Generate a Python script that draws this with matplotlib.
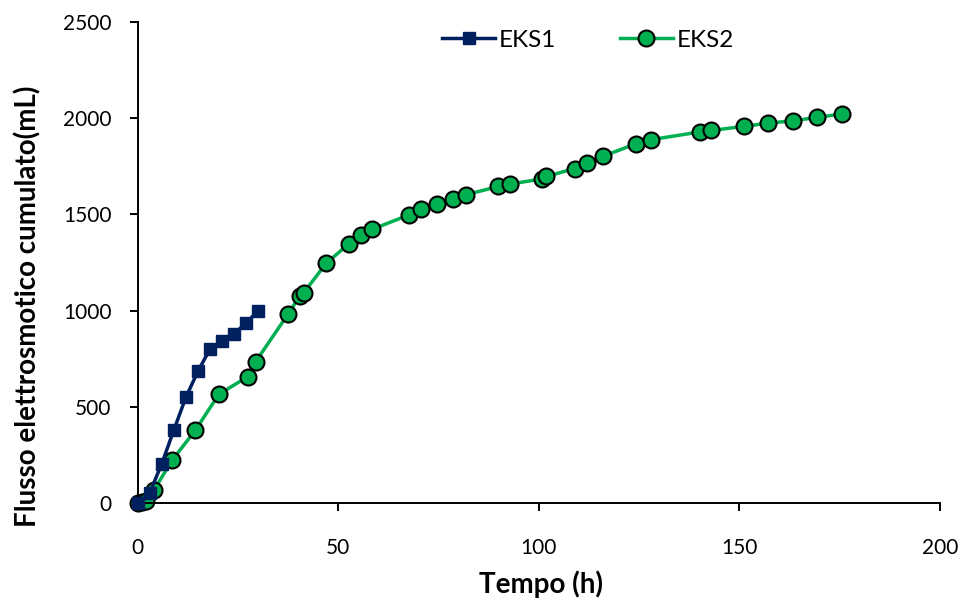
import matplotlib.pyplot as plt

plt.rcParams['font.family'] = ['Lato', 'DejaVu Sans']

# EKS1
t1 = [0, 3, 6, 9, 12, 15, 18, 21, 24, 27, 30]
q1 = [0, 55, 205, 380, 550, 685, 800, 840, 880, 935, 1000]

# EKS2
t2 = [0, 1, 2, 4, 8.6, 14.4, 20.2, 27.4, 29.4, 37.5, 40.4, 41.4, 47, 52.6, 55.6,
      58.5, 67.7, 70.7, 74.7, 78.6, 81.8, 89.9, 92.8, 100.9, 101.9, 108.9, 111.9,
      115.9, 124.2, 127.9, 140.1, 143, 151.1, 157.2, 163.3, 169.4, 175.5]
q2 = [0, 7, 12, 67, 224, 380, 565, 657, 735, 983, 1076, 1094, 1246, 1347, 1394,
      1423, 1498, 1527, 1555, 1579, 1602, 1645, 1657, 1685, 1697, 1738, 1766,
      1801, 1867, 1888, 1928, 1936, 1957, 1974, 1986, 2004, 2021]

fig = plt.figure(figsize=(9.7, 6.07), dpi=100)
ax = fig.add_axes([0.142, 0.171, 0.827, 0.793])

ax.plot(t1, q1, color='#002060', lw=2.5, marker='s', ms=8.5, label='EKS1',
        zorder=3, clip_on=False)
ax.plot(t2, q2, color='#00B050', lw=2.5, marker='o', ms=11.5, mfc='#00B050',
        mec='black', mew=1.5, label='EKS2', zorder=2, clip_on=False)

ax.set_xlim(0, 200)
ax.set_ylim(0, 2500)
ax.set_xticks([0, 50, 100, 150, 200])
ax.set_yticks([0, 500, 1000, 1500, 2000, 2500])
ax.spines['top'].set_visible(False)
ax.spines['right'].set_visible(False)
for s in ['left', 'bottom']:
    ax.spines[s].set_linewidth(1.4)
ax.tick_params(direction='out', length=6, width=1.4, labelsize=15)
ax.tick_params(axis='y', pad=13)
ax.tick_params(axis='x', pad=19)

ax.set_xlabel('Tempo (h)', fontsize=20, fontweight='bold')
ax.set_ylabel('Flusso elettrosmotico cumulato(mL)', fontsize=20, fontweight='bold')
ax.xaxis.set_label_coords(0.503, -0.14)
ax.yaxis.set_label_coords(-0.12, 0.41)

fig.legend(loc='center left', bbox_to_anchor=(0.433, 0.934), ncol=2, frameon=False,
           fontsize=17.5, handlelength=2.2, handletextpad=0.15, columnspacing=2.6)

plt.savefig('out.png', dpi=100)
